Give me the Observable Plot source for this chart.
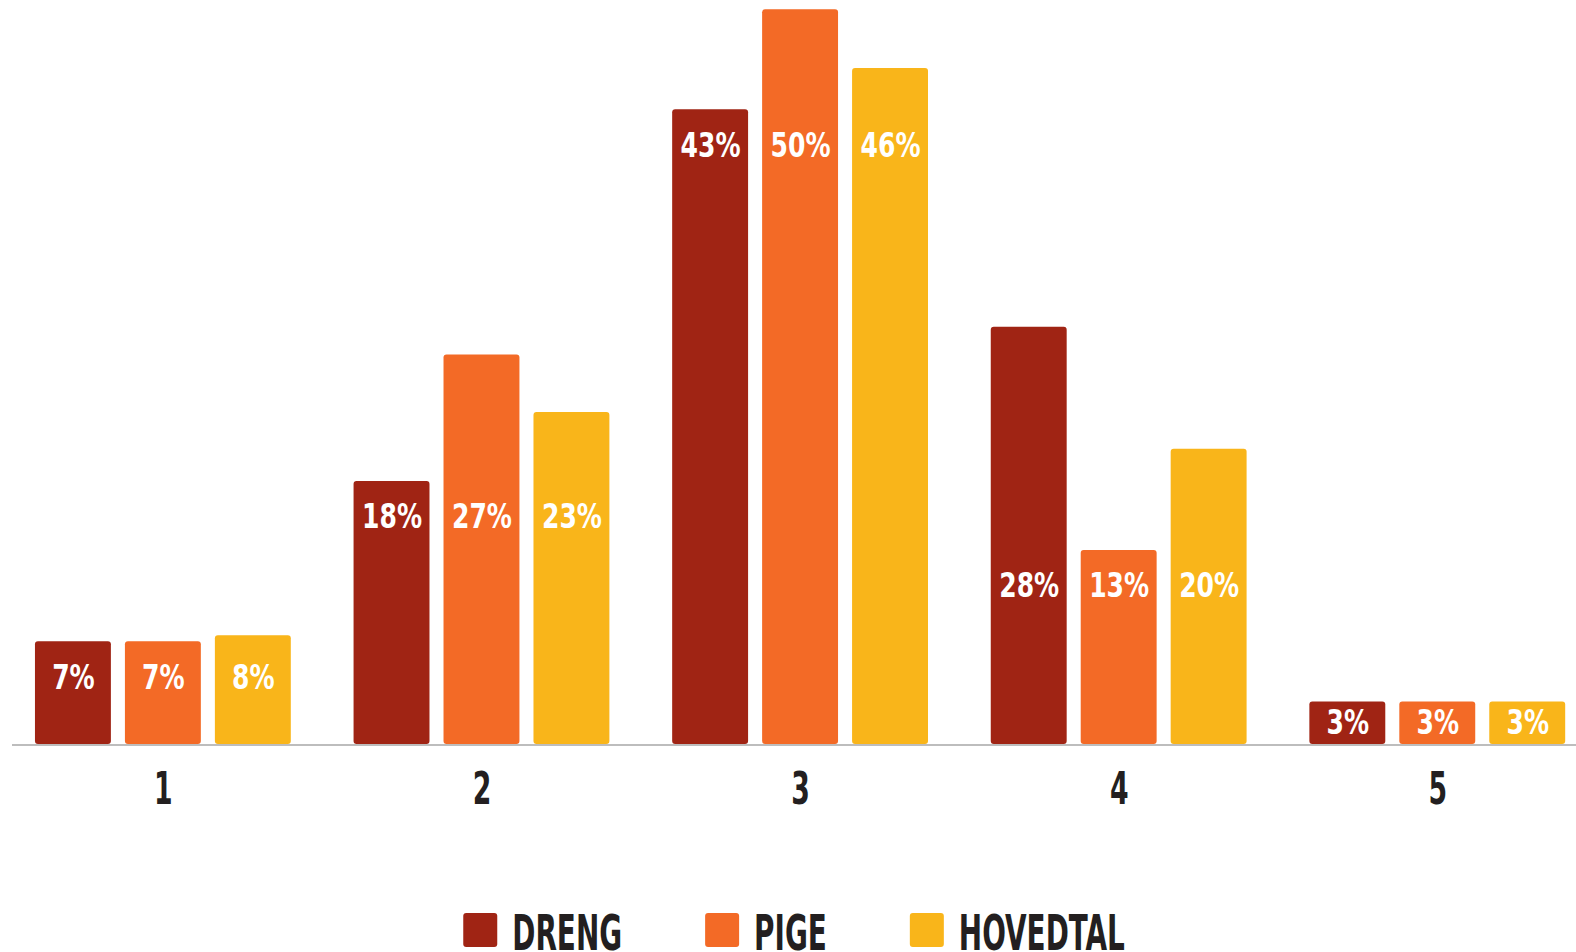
<!DOCTYPE html>
<html>
<head>
<meta charset="utf-8">
<script src="https://cdn.jsdelivr.net/npm/d3@7"></script>
<script src="https://cdn.jsdelivr.net/npm/@observablehq/plot@0.6"></script>
<style>
  html, body { margin: 0; padding: 0; background: #fff; overflow: hidden; }
  body { width: 1576px; height: 952px; font-family: "DejaVu Sans Condensed", "DejaVu Sans", sans-serif; }
  svg { display: block; }
</style>
</head>
<body>
<div id="chart"></div>
<div id="legend"></div>
<script>
const groups = ["1", "2", "3", "4", "5"];
const series = ["DRENG", "PIGE", "HOVEDTAL"];
const colors = ["#a02414", "#f36a26", "#f9b51a"];
const dreng    = [7.0, 17.9, 43.2, 28.4, 2.9];
const pige     = [7.0, 26.5, 50.0, 13.2, 2.9];
const hovedtal = [7.4, 22.6, 46.0, 20.1, 2.9];
const drengLabels    = ["7%", "18%", "43%", "28%", "3%"];
const pigeLabels     = ["7%", "27%", "50%", "13%", "3%"];
const hovedtalLabels = ["8%", "23%", "46%", "20%", "3%"];

const values = [dreng, pige, hovedtal];
const labels = [drengLabels, pigeLabels, hovedtalLabels];
const data = [];
groups.forEach((g, gi) => series.forEach((s, si) => {
  data.push({group: g, series: s, value: values[si][gi], label: labels[si][gi]});
}));

const W = 1576, H = 830, mT = 9.3, mB = 86, mL = 12, mR = 0;
const yMax = 50;
const pxPerUnit = (H - mB - mT) / yMax;
const labelOffset = 36;
const groupMin = {};
groups.forEach((g, gi) => groupMin[g] = d3.min(values, v => v[gi]));
data.forEach(d => {
  const m = groupMin[d.group];
  if (m * pxPerUnit > 2 * labelOffset) { d.ly = m; d.top = true; }
  else { d.ly = d.value / 2; d.top = false; }
});

const font = "'DejaVu Sans Condensed', 'DejaVu Sans', sans-serif";
const ink = "#231f20";

const plot = Plot.plot({
  width: W, height: H,
  marginTop: mT, marginBottom: mB, marginLeft: mL, marginRight: mR,
  style: {fontFamily: font, background: "#fff"},
  fx: {domain: groups, paddingInner: 0.197, paddingOuter: 0.053, align: 0.68, round: false, label: null},
  x: {domain: series, paddingInner: 0.156, paddingOuter: 0, round: false, axis: null},
  y: {domain: [0, yMax], axis: null},
  color: {domain: series, range: colors},
  marks: [
    Plot.barY(data, {fx: "group", x: "series", y: "value", fill: "series", rx: 3}),
    Plot.text(data.filter(d => d.top), {fx: "group", x: "series", y: "ly", dy: labelOffset, text: "label", fill: "#fff", fontSize: 34, fontWeight: "bold"}),
    Plot.text(data.filter(d => !d.top), {fx: "group", x: "series", y: "ly", text: "label", fill: "#fff", fontSize: 34, fontWeight: "bold"}),
    Plot.axisFx({anchor: "bottom", tickSize: 0, tickPadding: 28, fontSize: 45, fontWeight: "bold", fill: ink, label: null})
  ]
});
document.getElementById("chart").appendChild(plot);

// condense the glyphs horizontally about their anchor (the original uses a narrow typeface)
function condense(el, sx) {
  const xa = el.getAttribute("x");
  const x = xa !== null && isFinite(+xa) ? +xa : 0;
  const t = el.getAttribute("transform") || "";
  el.setAttribute("transform", `${t} translate(${x},0) scale(${sx},1) translate(${-x},0)`);
}
d3.select(plot).selectAll("text").each(function() {
  const fs = parseFloat(getComputedStyle(this).fontSize);
  if (fs >= 40) condense(this, 0.66);
  else if (fs >= 30) condense(this, 0.82);
});

// baseline across the whole frame
const y0 = plot.scale("y").apply(0);
d3.select(plot).insert("line", "g")
  .attr("x1", mL).attr("x2", W - mR)
  .attr("y1", y0 + 1).attr("y2", y0 + 1)
  .attr("stroke", "#bdbdbd").attr("stroke-width", 2);

// legend below the chart
const LH = 952 - H;
const lsvg = d3.select("#legend").append("svg").attr("width", W).attr("height", LH);
const lg = lsvg.append("g");
const sw = 34, swTop = 83, txtGap = 15, itemGap = 83, lsx = 0.62, baseY = 120;
let cx = 0;
series.forEach((s, i) => {
  lg.append("rect").attr("x", cx).attr("y", swTop).attr("width", sw).attr("height", sw)
    .attr("rx", 3).attr("fill", colors[i]);
  const tx = cx + sw + txtGap;
  const t = lg.append("text").attr("transform", `translate(${tx},${baseY}) scale(${lsx},1)`)
    .attr("font-family", font).attr("font-size", 50).attr("font-weight", "bold")
    .attr("fill", ink).text(s);
  const w = t.node().getComputedTextLength() * lsx;
  cx = tx + w + itemGap;
});
const total = cx - itemGap;
lg.attr("transform", `translate(${(W - total) / 2 + 6},0)`);
</script>
</body>
</html>
